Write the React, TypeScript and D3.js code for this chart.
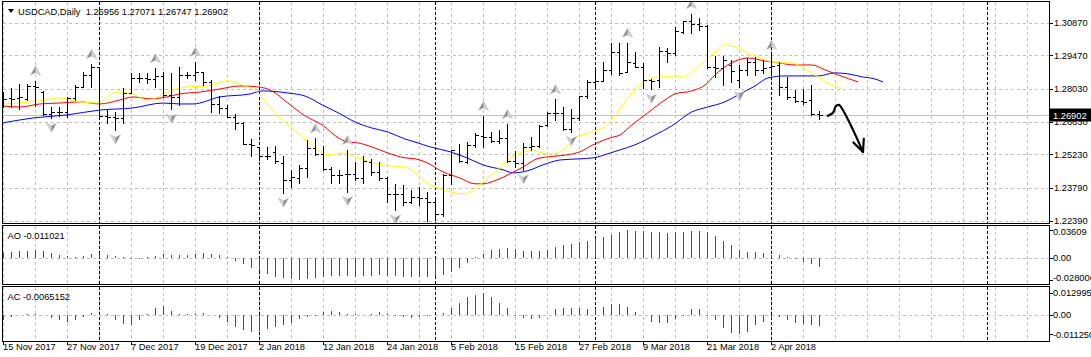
import React from 'react';
import * as d3 from 'd3';

const W = 1091;
const H = 357;

// ---------- OHLC (daily bars, 15 Nov 2017 .. 10 Apr 2018) ----------
const barOpen = [
  1.2768, 1.2763, 1.2763, 1.2759, 1.2816, 1.2792, 1.2696, 1.2706, 1.2706, 1.2763,
  1.2813, 1.2863, 1.2899, 1.2688, 1.2685, 1.2678, 1.2785, 1.2849, 1.2849, 1.2845,
  1.2859, 1.2778, 1.2769, 1.2863, 1.2863, 1.2877, 1.2834, 1.2739, 1.2721, 1.2685,
  1.2657, 1.2568, 1.2556, 1.2517, 1.2535, 1.2488, 1.2414, 1.2422, 1.2464, 1.2549,
  1.2525, 1.2460, 1.2435, 1.2438, 1.2438, 1.2421, 1.2492, 1.2449, 1.2421, 1.2354,
  1.2354, 1.2317, 1.2340, 1.2335, 1.2321, 1.2268, 1.2435, 1.2525, 1.2492, 1.2564,
  1.2602, 1.2599, 1.2581, 1.2595, 1.2496, 1.2488, 1.2556, 1.2559, 1.2649, 1.2699,
  1.2702, 1.2631, 1.2678, 1.2773, 1.2834, 1.2839, 1.2884, 1.2963, 1.2877, 1.2916,
  1.2899, 1.2842, 1.2842, 1.2967, 1.2956, 1.3049, 1.3096, 1.3081, 1.3073, 1.2899,
  1.2892, 1.2906, 1.2842, 1.2884, 1.2920, 1.2884, 1.2899, 1.2906, 1.2811, 1.2770,
  1.2752, 1.2756, 1.26956,
];
const barHigh = [
  1.2792, 1.2806, 1.2825, 1.2825, 1.2839, 1.2793, 1.2728, 1.2728, 1.2770, 1.2820,
  1.2877, 1.2910, 1.2899, 1.2714, 1.2706, 1.2806, 1.2873, 1.2870, 1.2873, 1.2892,
  1.2877, 1.2870, 1.2896, 1.2877, 1.2920, 1.2877, 1.2842, 1.2773, 1.2735, 1.2696,
  1.2663, 1.2588, 1.2556, 1.2554, 1.2559, 1.2517, 1.2454, 1.2478, 1.2585, 1.2592,
  1.2559, 1.2471, 1.2454, 1.2542, 1.2492, 1.2514, 1.2502, 1.2492, 1.2428, 1.2397,
  1.2392, 1.2371, 1.2385, 1.2364, 1.2335, 1.2440, 1.2542, 1.2568, 1.2578, 1.2616,
  1.2688, 1.2621, 1.2628, 1.2653, 1.2539, 1.2571, 1.2599, 1.2649, 1.2706, 1.2759,
  1.2728, 1.2716, 1.2773, 1.2842, 1.2892, 1.2920, 1.2999, 1.2999, 1.3001, 1.2963,
  1.2913, 1.2845, 1.2984, 1.2978, 1.3070, 1.3096, 1.3124, 1.3106, 1.3077, 1.2945,
  1.2945, 1.2927, 1.2906, 1.2935, 1.2942, 1.2927, 1.2949, 1.2920, 1.2856, 1.2799,
  1.2802, 1.2820, 1.27071,
];
const barLow = [
  1.2728, 1.2728, 1.2716, 1.2756, 1.2731, 1.2692, 1.2678, 1.2688, 1.2682, 1.2756,
  1.2811, 1.2813, 1.2678, 1.2657, 1.2628, 1.2657, 1.2785, 1.2834, 1.2828, 1.2813,
  1.2770, 1.2716, 1.2735, 1.2849, 1.2842, 1.2820, 1.2706, 1.2699, 1.2682, 1.2631,
  1.2567, 1.2514, 1.2499, 1.2502, 1.2485, 1.2357, 1.2383, 1.2400, 1.2428, 1.2521,
  1.2457, 1.2402, 1.2400, 1.2364, 1.2414, 1.2402, 1.2435, 1.2414, 1.2317, 1.2285,
  1.2307, 1.2314, 1.2307, 1.2238, 1.2244, 1.2257, 1.2397, 1.2492, 1.2485, 1.2554,
  1.2556, 1.2578, 1.2573, 1.2492, 1.2471, 1.2457, 1.2542, 1.2556, 1.2645, 1.2671,
  1.2628, 1.2621, 1.2671, 1.2763, 1.2816, 1.2839, 1.2868, 1.2863, 1.2877, 1.2899,
  1.2806, 1.2802, 1.2811, 1.2920, 1.2949, 1.3044, 1.3044, 1.3056, 1.2892, 1.2856,
  1.2820, 1.2834, 1.2813, 1.2863, 1.2863, 1.2870, 1.2863, 1.2778, 1.2759, 1.2749,
  1.2739, 1.2692, 1.26747,
];
const barClose = [
  1.2759, 1.2759, 1.2768, 1.2816, 1.2813, 1.2696, 1.2706, 1.2706, 1.2763, 1.2813,
  1.2863, 1.2899, 1.2688, 1.2685, 1.2678, 1.2785, 1.2849, 1.2849, 1.2845, 1.2859,
  1.2778, 1.2769, 1.2863, 1.2863, 1.2877, 1.2834, 1.2739, 1.2721, 1.2685, 1.2657,
  1.2568, 1.2564, 1.2517, 1.2517, 1.2495, 1.2414, 1.2427, 1.2464, 1.2549, 1.2525,
  1.2460, 1.2435, 1.2435, 1.2438, 1.2421, 1.2495, 1.2449, 1.2421, 1.2354, 1.2354,
  1.2317, 1.2342, 1.2335, 1.2321, 1.2268, 1.2435, 1.2542, 1.2496, 1.2564, 1.2606,
  1.2599, 1.2581, 1.2595, 1.2496, 1.2488, 1.2556, 1.2559, 1.2645, 1.2699, 1.2702,
  1.2631, 1.2678, 1.2773, 1.2834, 1.2839, 1.2884, 1.2963, 1.2873, 1.2920, 1.2899,
  1.2842, 1.2839, 1.2967, 1.2956, 1.3053, 1.3096, 1.3081, 1.3073, 1.2899, 1.2892,
  1.2927, 1.2882, 1.2884, 1.2920, 1.2884, 1.2892, 1.2902, 1.2811, 1.2770, 1.2752,
  1.2748, 1.2696, 1.26902,
];

// ---------- Alligator lines: [bar index, price] ----------
const lipsPts: [number, number][] = [
  [0, 1.2739], [2.1, 1.2743], [4.6, 1.2752], [7.1, 1.2765], [9.6, 1.2748], [11.75, 1.2743],
  [14.25, 1.279], [15.9, 1.2786], [18, 1.2756], [21.25, 1.2799], [23, 1.2812], [25.5, 1.2816],
  [28, 1.2838], [30, 1.282], [31.9, 1.2787], [33, 1.2739], [34.9, 1.2671], [36.9, 1.2615],
  [39, 1.2551], [40, 1.2525], [41.1, 1.2521], [42.4, 1.2529], [44, 1.2512], [46.1, 1.2487],
  [48.1, 1.2474], [50.25, 1.2469], [51.5, 1.2444], [53, 1.2401], [55, 1.2371], [57.75, 1.2354],
  [59.25, 1.2384], [61.75, 1.2457], [63.4, 1.2508], [65, 1.2534], [66.25, 1.2538], [68, 1.2525],
  [69.6, 1.2534], [71.75, 1.2598], [73.75, 1.2619], [75.5, 1.2649], [77.1, 1.2718], [78.1, 1.2765],
  [80.6, 1.2842], [82.4, 1.2855], [84.9, 1.2855], [86.9, 1.2897], [88.6, 1.2949], [90.25, 1.2992],
  [91.5, 1.2983], [93.1, 1.2957], [94.9, 1.2932], [96.9, 1.2915], [98.6, 1.2915], [99.9, 1.2897],
  [101.5, 1.2863], [103.1, 1.2829], [104.9, 1.2803],
];
const teethPts: [number, number][] = [
  [0, 1.273], [2.1, 1.2726], [4.6, 1.2739], [7.1, 1.2743], [9.6, 1.2748], [12.1, 1.2739],
  [14.6, 1.2756], [16.25, 1.2769], [18.4, 1.2761], [20.5, 1.2769], [22.1, 1.2782], [24.6, 1.279],
  [27.1, 1.2803], [29.6, 1.2816], [31.9, 1.2812], [33.6, 1.2795], [35.6, 1.2743], [37.75, 1.2688],
  [39.9, 1.2649], [41.9, 1.2594], [43.1, 1.2576], [44.4, 1.2572], [46.1, 1.2555], [48.1, 1.2529],
  [50.25, 1.2508], [51.5, 1.2504], [53, 1.2487], [55, 1.2448], [57.1, 1.2422], [59, 1.2397],
  [60, 1.2397], [61.75, 1.2414], [63.4, 1.244], [65, 1.2469], [66.75, 1.2504], [68, 1.2512],
  [70.5, 1.2521], [72.1, 1.2534], [73.75, 1.2564], [75.9, 1.2594], [77.1, 1.2606], [78.6, 1.2649],
  [80.6, 1.2701], [82.75, 1.2756], [84, 1.2782], [86.1, 1.2795], [87.75, 1.282], [89, 1.2863],
  [90.6, 1.2906], [92.4, 1.2932], [93.1, 1.2936], [95.25, 1.2923], [96.9, 1.2915], [99, 1.2906],
  [101.1, 1.2906], [102.75, 1.2885], [104.4, 1.2863], [106.9, 1.2833],
];
const jawPts: [number, number][] = [
  [0, 1.2658], [3.75, 1.2679], [8, 1.2692], [12.1, 1.2713], [16.25, 1.2722], [20, 1.2743],
  [22.1, 1.2739], [23.75, 1.2739], [27.1, 1.2769], [30.9, 1.2782], [32.4, 1.2795], [35.6, 1.2786],
  [37.75, 1.2773], [39.9, 1.2735], [41.9, 1.2701], [44, 1.2662], [46.1, 1.2636], [48.1, 1.2619],
  [50.25, 1.2589], [51.5, 1.2576], [53.4, 1.2555], [55.9, 1.2534], [58, 1.2508], [60, 1.2478],
  [62.5, 1.2457], [63.75, 1.2444], [65.5, 1.2452], [67.5, 1.2478], [69.6, 1.2499], [72.1, 1.2504],
  [73.75, 1.2508], [75.9, 1.2529], [77.1, 1.2542], [79, 1.2564], [81.5, 1.2606], [83.6, 1.2645],
  [86.1, 1.2705], [88.1, 1.2726], [90.25, 1.2748], [91.9, 1.2778], [94, 1.2816], [95.6, 1.285],
  [97.75, 1.2859], [99.9, 1.2859], [101.9, 1.2859], [104, 1.2872], [105.6, 1.2868], [107.4, 1.2855],
  [109, 1.2846], [110, 1.2833],
];

// ---------- Fractals (bar indices) ----------
const fractalUp = [4, 11, 19, 24, 39, 43, 60, 63, 69, 78, 86, 96];
const fractalDown = [6, 14, 21, 35, 43, 49, 53, 65, 71, 81, 92];

// ---------- Awesome Oscillator ----------
const aoBefore = 0.0075;
const aoValues = [
  0.0067, 0.0076, 0.0085, 0.0088, 0.0099, 0.0085, 0.0067, 0.0045, 0.0022, 0.0018,
  0.0031, 0.0054, 0.0058, 0.0045, 0.0022, 0.0009, -0.0013, -0.0009, 0.0009, 0.0031,
  0.0054, 0.0045, 0.004, 0.0045, 0.0054, 0.0063, 0.0054, 0.0045, 0.0009, -0.0036,
  -0.0072, -0.0126, -0.0171, -0.0207, -0.0238, -0.0256, -0.0274, -0.028006, -0.0272, -0.026,
  -0.0247, -0.0233, -0.0225, -0.0233, -0.0242, -0.0233, -0.0225, -0.0216, -0.0225, -0.0234,
  -0.0243, -0.0247, -0.0242, -0.0238, -0.0229, -0.0216, -0.0184, -0.0126, -0.0058, 0.0018,
  0.0054, 0.0099, 0.0112, 0.0135, 0.0121, 0.0094, 0.009, 0.0085, 0.0099, 0.0144,
  0.0166, 0.018, 0.0211, 0.0225, 0.025, 0.0275, 0.03, 0.033, 0.03609, 0.0355,
  0.0347, 0.0338, 0.0332, 0.0325, 0.033, 0.0338, 0.0348, 0.0352, 0.0335, 0.029,
  0.022, 0.0166, 0.0099, 0.0076, 0.0074, 0.0063, 0.0045, 0.0043, 0.0009, -0.0013,
  -0.0045, -0.0081, -0.011021,
];

// ---------- Accelerator Oscillator ----------
const acBefore = -0.004;
const acValues = [
  -0.0028, -0.0011, -0.0002, 0.0004, 0.0007, 0.0001, -0.0015, -0.003, -0.0041, -0.0031,
  -0.0011, 0.0011, 0.0007, 0.0004, -0.003, -0.0052, -0.0056, -0.0031, 0.0007, 0.0039,
  0.0052, 0.0022, 0.0004, 0.0006, 0.0007, 0.0009, 0.0002, -0.0017, -0.0041, -0.0072,
  -0.0085, -0.0096, -0.0094, -0.0081, -0.0067, -0.0059, -0.0044, -0.0026, -0.0011, -0.0004,
  0.002, 0.0022, 0.0015, 0.0007, 0.0004, 0.0002, 0.0006, 0.0017, 0.0004, -0.0004,
  -0.0011, -0.0019, -0.0011, -0.0004, 0.0002, 0.0011, 0.0043, 0.0067, 0.0104, 0.0118,
  0.012995, 0.0104, 0.007, 0.0039, -0.0004, -0.002, -0.0026, -0.002, 0.0002, 0.0033,
  0.0043, 0.0042, 0.0039, 0.0033, 0.0032, 0.0044, 0.0061, 0.0063, 0.0044, 0.002,
  0.0, -0.0039, -0.0048, -0.0047, -0.0026, -0.0004, 0.0033, 0.0034, -0.0004, -0.003,
  -0.0076, -0.0104, -0.01125, -0.0096, -0.0059, -0.0039, -0.0026, -0.0011, -0.0029, -0.0045,
  -0.0052, -0.006, -0.0065152,
];

// ---------- Axes ----------
const priceTicks = [1.3087, 1.2947, 1.2803, 1.2663, 1.2523, 1.2379, 1.2239];
const priceTickLabels = ['1.30870', '1.29470', '1.28030', '1.26630', '1.25230', '1.23790', '1.22390'];
const aoTicks = [0.03609, 0, -0.028006];
const aoTickLabels = ['0.03609', '0.00', '-0.028006'];
const acTicks = [0.012995, 0, -0.01125];
const acTickLabels = ['0.012995', '0.00', '-0.011250'];
const dateIdx = [0, 8, 16, 24, 32, 40, 48, 56, 64, 72, 80, 88, 96];
const dateLabels = [
  '15 Nov 2017', '27 Nov 2017', '7 Dec 2017', '19 Dec 2017', '2 Jan 2018', '12 Jan 2018',
  '24 Jan 2018', '5 Feb 2018', '15 Feb 2018', '27 Feb 2018', '9 Mar 2018', '21 Mar 2018', '2 Apr 2018',
];
const separatorIdx = [12, 32, 54, 74, 96, 123];
const lastBid = 1.26902;
const headerText = 'USDCAD,Daily  1.26956 1.27071 1.26747 1.26902';
const aoTitle = 'AO -0.011021';
const acTitle = 'AC -0.0065152';

// hand-drawn projection arrow: [bar index, price]
const sketchPts: [number, number][] = [
  [103.1, 1.2688], [103.75, 1.2701], [104.1, 1.2729], [104.5, 1.2735], [105, 1.2712],
  [106.25, 1.2628], [107.5, 1.2533],
];
const sketchHead: [number, number][] = [[106.3, 1.2574], [107.5, 1.2533], [107.6, 1.2590]];

const FONT = '"Liberation Sans", Arial, sans-serif';

export default function App() {
  // layout frame
  const L = 2.5, R = 1049.5;
  const mainTop = 1.5, mainBot = 223.5;
  const aoTop = 225.5, aoBot = 284.5;
  const acTop = 286.5, acBot = 341.5;

  const x = d3.scaleLinear().domain([0, 1]).range([3, 11]);
  const y = d3.scaleLinear().domain([1.2239, 1.3087]).range([220.7, 22.7]);
  const yAO = d3.scaleLinear().domain([-0.028006, 0.03609]).range([279.8, 230.1]);
  const yAC = d3.scaleLinear().domain([-0.01125, 0.012995]).range([334.4, 292.6]);

  const px = (i: number) => Math.round(x(i)) + 0.5;
  const py = (v: number) => Math.round(y(v)) + 0.5;

  const gridIdx = d3.range(0, 129, 4);
  const GRID = '#c0c0c0';
  const dash = '3,3';

  const lineGen = (pts: [number, number][]) =>
    d3.line<[number, number]>().x((d) => x(d[0])).y((d) => y(d[1])).curve(d3.curveMonotoneX)(pts) || '';

  const upArrow = (cx: number, cy: number, key: string) => (
    <g key={key}>
      <path d={`M${cx},${cy - 5} L${cx + 5},${cy + 4} L${cx},${cy + 1.5} L${cx - 5},${cy + 4} Z`} fill="#8a8a8a" stroke="#bdbdbd" strokeWidth={0.6} />
      <path d={`M${cx},${cy - 5} L${cx + 5},${cy + 4} L${cx},${cy + 1.5} Z`} fill="#d2d2d2" />
    </g>
  );
  const downArrow = (cx: number, cy: number, key: string) => (
    <g key={key}>
      <path d={`M${cx},${cy + 5} L${cx + 5},${cy - 4} L${cx},${cy - 1.5} L${cx - 5},${cy - 4} Z`} fill="#8a8a8a" stroke="#bdbdbd" strokeWidth={0.6} />
      <path d={`M${cx},${cy + 5} L${cx - 5},${cy - 4} L${cx},${cy - 1.5} Z`} fill="#d2d2d2" />
    </g>
  );

  const colorOf = (vals: number[], before: number, i: number) =>
    vals[i] > (i === 0 ? before : vals[i - 1]) ? '#008000' : '#ff0000';

  const clampLabel = (v: number, top: number, bot: number) => Math.max(top + 6.5, Math.min(bot - 6.5, v));

  const sketchLine = d3.line<[number, number]>().x((d) => x(d[0])).y((d) => y(d[1])).curve(d3.curveCatmullRom)(sketchPts) || '';
  const headLine = d3.line<[number, number]>().x((d) => x(d[0])).y((d) => y(d[1]))(sketchHead) || '';

  return (
    <svg width={W} height={H} style={{ position: 'absolute', left: 0, top: 0, background: '#fff' }} fontFamily={FONT}>
      <defs>
        <clipPath id="mainClip"><rect x={L} y={mainTop} width={R - L} height={mainBot - mainTop} /></clipPath>
        <clipPath id="aoClip"><rect x={L} y={aoTop} width={R - L} height={aoBot - aoTop} /></clipPath>
        <clipPath id="acClip"><rect x={L} y={acTop} width={R - L} height={acBot - acTop} /></clipPath>
      </defs>
      <rect x={0} y={0} width={W} height={H} fill="#fff" />

      {/* vertical grid */}
      {[[mainTop, mainBot], [aoTop, aoBot], [acTop, acBot]].map(([t, b], k) => (
        <g key={'vg' + k}>
          {gridIdx.map((i) => (
            <line key={i} x1={px(i)} x2={px(i)} y1={t} y2={b} stroke={GRID} strokeDasharray={dash} shapeRendering="crispEdges" />
          ))}
        </g>
      ))}
      {/* horizontal grid main */}
      {priceTicks.map((t, k) => (
        <line key={'hg' + k} x1={L} x2={R} y1={py(t)} y2={py(t)} stroke={GRID} strokeDasharray={dash} shapeRendering="crispEdges" />
      ))}
      {/* zero lines */}
      <line x1={L} x2={R} y1={Math.round(yAO(0)) + 0.5} y2={Math.round(yAO(0)) + 0.5} stroke={GRID} strokeDasharray={dash} shapeRendering="crispEdges" />
      <line x1={L} x2={R} y1={Math.round(yAC(0)) + 0.5} y2={Math.round(yAC(0)) + 0.5} stroke={GRID} strokeDasharray={dash} shapeRendering="crispEdges" />

      {/* period separators */}
      {[[mainTop, mainBot], [aoTop, aoBot], [acTop, acBot]].map(([t, b], k) => (
        <g key={'sep' + k}>
          {separatorIdx.map((i) => (
            <line key={i} x1={px(i)} x2={px(i)} y1={t} y2={b} stroke="#000" strokeDasharray="3,2" shapeRendering="crispEdges" />
          ))}
        </g>
      ))}

      {/* bid line */}
      <line x1={L} x2={R} y1={py(lastBid)} y2={py(lastBid)} stroke="#c0c0c0" shapeRendering="crispEdges" />

      <g clipPath="url(#mainClip)">
        {/* alligator */}
        <path d={lineGen(jawPts)} fill="none" stroke="#0000ff" strokeWidth={1} />
        <path d={lineGen(teethPts)} fill="none" stroke="#ff0000" strokeWidth={1} />
        <path d={lineGen(lipsPts)} fill="none" stroke="#ffff00" strokeWidth={1} />

        {/* OHLC bars */}
        {barClose.map((c, i) => {
          const cx = px(i);
          return (
            <g key={'b' + i} stroke="#000" shapeRendering="crispEdges">
              <line x1={cx} x2={cx} y1={Math.round(y(barHigh[i]))} y2={Math.round(y(barLow[i])) + 1} />
              <line x1={cx - 3} x2={cx} y1={py(barOpen[i])} y2={py(barOpen[i])} />
              <line x1={cx} x2={cx + 3.5} y1={py(c)} y2={py(c)} />
            </g>
          );
        })}

        {/* fractals */}
        {fractalUp.map((i) => upArrow(px(i), y(barHigh[i]) - 9.5, 'fu' + i))}
        {fractalDown.map((i) => downArrow(px(i), y(barLow[i]) + 9, 'fd' + i))}

        {/* sketch arrow */}
        <path d={sketchLine} fill="none" stroke="#000" strokeWidth={2.2} strokeLinecap="round" strokeLinejoin="round" />
        <path d={headLine} fill="none" stroke="#000" strokeWidth={2.2} strokeLinecap="round" strokeLinejoin="round" />
      </g>

      {/* AO histogram */}
      <g clipPath="url(#aoClip)" shapeRendering="crispEdges">
        {aoValues.map((v, i) => (
          <line key={'ao' + i} x1={px(i)} x2={px(i)} y1={Math.round(yAO(0))} y2={Math.round(yAO(v))} stroke={colorOf(aoValues, aoBefore, i)} />
        ))}
      </g>
      {/* AC histogram */}
      <g clipPath="url(#acClip)" shapeRendering="crispEdges">
        {acValues.map((v, i) => (
          <line key={'ac' + i} x1={px(i)} x2={px(i)} y1={Math.round(yAC(0))} y2={Math.round(yAC(v))} stroke={colorOf(acValues, acBefore, i)} />
        ))}
      </g>

      {/* frames */}
      <g fill="none" stroke="#000" shapeRendering="crispEdges">
        <rect x={L} y={mainTop} width={R - L} height={mainBot - mainTop} />
        <rect x={L} y={aoTop} width={R - L} height={aoBot - aoTop} />
        <rect x={L} y={acTop} width={R - L} height={acBot - acTop} />
      </g>

      {/* header */}
      <path d="M8,9 L14,9 L11,13 Z" fill="#000" />
      <text x={18} y={14.5} fontSize={9.3} fill="#000" style={{ whiteSpace: 'pre' }}>{headerText}</text>
      <text x={7.5} y={239} fontSize={9.3} fill="#000">{aoTitle}</text>
      <text x={7.5} y={299.5} fontSize={9.3} fill="#000">{acTitle}</text>

      {/* price axis */}
      {priceTicks.map((t, k) => (
        <g key={'pt' + k}>
          <line x1={R} x2={R + 3} y1={py(t)} y2={py(t)} stroke="#000" shapeRendering="crispEdges" />
          <text x={1054} y={y(t)} dy="0.35em" fontSize={9.3} fill="#000">{priceTickLabels[k]}</text>
        </g>
      ))}
      <rect x={1050} y={py(lastBid) - 7} width={41} height={13} fill="#000" />
      <text x={1053} y={py(lastBid)} dy="0.35em" fontSize={9.3} fill="#fff">{lastBid.toFixed(5)}</text>

      {aoTicks.map((t, k) => (
        <g key={'aot' + k}>
          <line x1={R} x2={R + 3} y1={Math.round(yAO(t)) + 0.5} y2={Math.round(yAO(t)) + 0.5} stroke="#000" shapeRendering="crispEdges" />
          <text x={1053} y={clampLabel(yAO(t), aoTop, aoBot)} dy="0.35em" fontSize={9.3} fill="#000">{aoTickLabels[k]}</text>
        </g>
      ))}
      {acTicks.map((t, k) => (
        <g key={'act' + k}>
          <line x1={R} x2={R + 3} y1={Math.round(yAC(t)) + 0.5} y2={Math.round(yAC(t)) + 0.5} stroke="#000" shapeRendering="crispEdges" />
          <text x={1053} y={clampLabel(yAC(t), acTop, acBot)} dy="0.35em" fontSize={9.3} fill="#000">{acTickLabels[k]}</text>
        </g>
      ))}

      {/* time axis */}
      {dateIdx.map((i, k) => (
        <g key={'dt' + k}>
          <line x1={px(i)} x2={px(i)} y1={acBot} y2={acBot + 3} stroke="#000" shapeRendering="crispEdges" />
          <text x={x(i)} y={350} fontSize={9.3} fill="#000">{dateLabels[k]}</text>
        </g>
      ))}
    </svg>
  );
}
